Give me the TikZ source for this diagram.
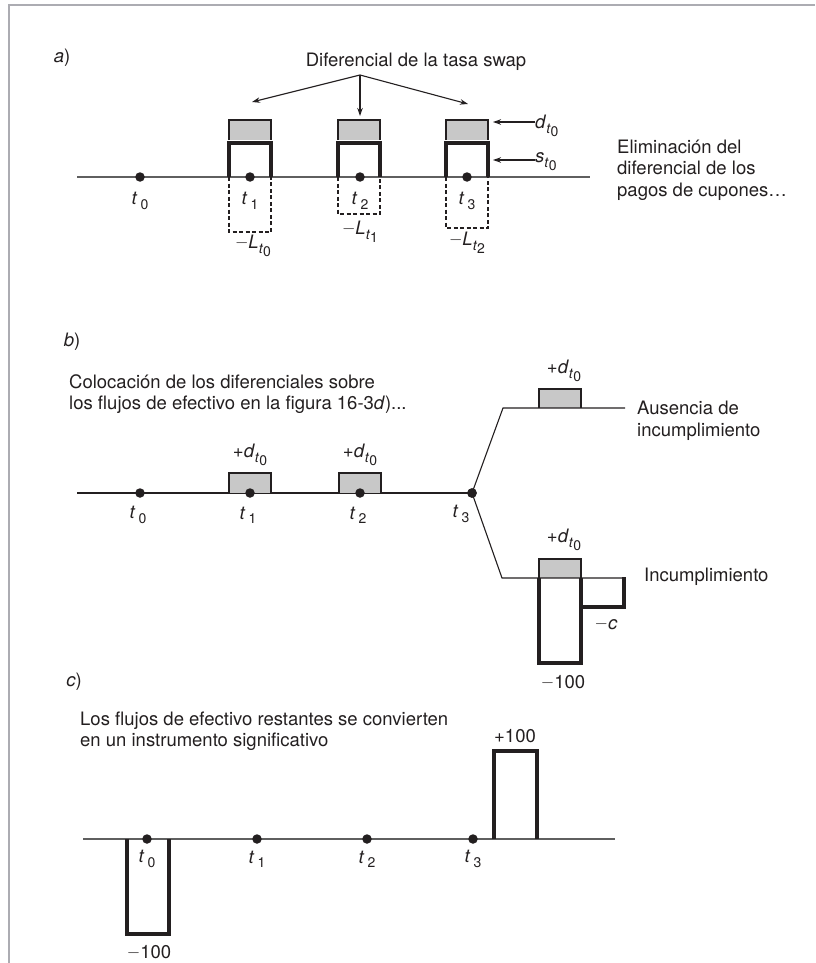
\documentclass[tikz,border=0pt]{standalone}
\usepackage{fontspec}
\setmainfont{TeX Gyre Heros}
\usetikzlibrary{arrows.meta, positioning, calc}
\definecolor{cInk}{RGB}{35,31,32}
\definecolor{cAxis}{RGB}{95,95,95}
\definecolor{cSpread}{RGB}{200,200,200}
\definecolor{cFrame}{RGB}{172,172,178}
\newcommand{\txtsz}{\fontsize{18.5}{21.5}\selectfont}
\newcommand{\subsz}{\fontsize{14}{14}\selectfont}
\newcommand{\mns}{\raisebox{0.1ex}{$-$}}
\newcommand{\tlab}[1]{\textit{t}\,\raisebox{-0.45ex}{\subsz #1}}
\newcommand{\sublab}[2]{\textit{#1}\raisebox{-0.5ex}{\subsz\textit{t}\raisebox{-0.45ex}{\subsz #2}}}
\tikzset{
	frame/.style={draw=cFrame, line width=2pt},
	axis/.style={draw=cAxis, line width=1.4pt},
	branch/.style={draw=cInk, line width=1.1pt},
	dot/.style={circle, fill=cInk, inner sep=0pt, minimum size=9.5pt},
	lbl/.style={inner sep=0pt, text=cInk},
	flowbox/.style={draw=cInk, line width=3.2pt},
	spreadfill/.style={fill=cSpread},
	spreadedge/.style={draw=cInk, line width=2.6pt},
	dashbox/.style={draw=cInk, line width=2.4pt, dash pattern=on 4pt off 2.5pt},
	ptr/.style={-{Stealth[length=8pt, width=5.5pt]}, draw=cInk, line width=1.1pt},
}
\begin{document}
\begin{tikzpicture}[x=1pt, y=-1pt, font=\txtsz]
	\useasboundingbox (0,0) rectangle (815,963);
	\draw[frame] (815,5) -- (9,5) -- (9,963);
	% a) swap spread
	\node[lbl] (pa) at (62,58) {\textit{a})};
	\node[lbl] (spreadtxt) at (416,62) {Diferencial de la tasa swap};
	\coordinate (hub) at (360,75);
	\coordinate (tipL) at (252,102);
	\coordinate (tipM) at (360,116);
	\coordinate (tipR) at (468,104);
	\draw[ptr] (hub) -- (tipL);
	\draw[ptr] (hub) -- (tipM);
	\draw[ptr] (hub) -- (tipR);
	\draw[axis] (77,177) -- (590,177);
	\foreach \x/\lo in {250/232, 359/214, 467/228} {
		\fill[spreadfill] ({\x-21},120) rectangle ({\x+21},140);
		\draw[spreadedge] ({\x-21},140) -- ({\x-21},120) -- ({\x+21},120) -- ({\x+21},140);
		\draw[flowbox] ({\x-21},177) -- ({\x-21},143) -- ({\x+21},143) -- ({\x+21},177);
		\draw[dashbox] ({\x-21},177) -- ({\x-21},\lo) -- ({\x+21},\lo) -- ({\x+21},177);
	}
	\foreach \n/\x in {0/140, 1/250, 2/360, 3/467} {
		\node[dot] (a\n) at (\x,177) {};
		\node[lbl] (ta\n) at (\x,201) {\tlab{\n}};
	}
	\node[lbl] (La0) at (253,246) {\mns\sublab{L}{0}};
	\node[lbl] (La1) at (360,232) {\mns\sublab{L}{1}};
	\node[lbl] (La2) at (467,243) {\mns\sublab{L}{2}};
	\node[lbl, anchor=west] (dlbl) at (535,126) {\sublab{d}{0}};
	\node[lbl, anchor=west] (slbl) at (535,162) {\sublab{s}{0}};
	\coordinate (dtip) at (493,122);
	\coordinate (stip) at (493,160);
	\draw[ptr] (dlbl.west |- dtip) -- (dtip);
	\draw[ptr] (slbl.west |- stip) -- (stip);
	\node[lbl, anchor=west, align=left] (elim) at (617,170) {Eliminación del\\diferencial de los\\pagos de cupones…};
	% b) spreads on the cash flows
	\node[lbl] (pb) at (72,342) {\textit{b})};
	\node[lbl, anchor=west, align=left] (placetxt) at (69,394) {Colocación de los diferenciales sobre\\los flujos de efectivo en la figura 16-3\textit{d})...};
	\foreach \n/\x in {0/140, 1/250, 2/360, 3/472}
		\coordinate (b\n) at (\x,493);
	\draw[branch] (77,493) -- (b3);
	\foreach \n in {1,2} {
		\fill[spreadfill] ($(b\n)+(-21,-20)$) rectangle ($(b\n)+(21,0)$);
		\draw[spreadedge] ($(b\n)+(-21,0)$) -- ++(0,-20) -- ++(42,0) -- ++(0,20);
		\node[lbl] (db\n) at ($(b\n)+(0,-38)$) {+\sublab{d}{0}};
	}
	\foreach \n in {0,1,2,3}
		\node[dot] (bd\n) at (b\n) {};
	\foreach \n in {0,1,2}
		\node[lbl] (tb\n) at ($(b\n)+(-2,22)$) {\tlab{\n}};
	\node[lbl] (tb3) at (461,514) {\tlab{3}};
	\coordinate (up1) at (503,408);
	\coordinate (up2) at (625,408);
	\coordinate (dn1) at (502,578);
	\coordinate (dn2) at (624,578);
	\fill[spreadfill] (539,389) rectangle (581,408);
	\fill[spreadfill] (539,559) rectangle (581,578);
	\draw[branch] (bd3.center) -- (up1) -- (up2);
	\draw[branch] (bd3.center) -- (dn1) -- (dn2);
	\node[dot] at (bd3) {};
	\draw[spreadedge] (539,408) -- (539,389) -- (581,389) -- (581,408);
	\node[lbl] (dup) at (564,371) {+\sublab{d}{0}};
	\node[lbl, anchor=west, align=left] (nodef) at (637,421) {Ausencia de\\incumplimiento};
	\draw[flowbox] (539,578) -- (539,663) -- (581,663) -- (581,578);
	\draw[flowbox] (581,607) -- (624,607) -- (624,577);
	\draw[spreadedge] (539,578) -- (539,559) -- (581,559) -- (581,578);
	\node[lbl] (ddn) at (564,540) {+\sublab{d}{0}};
	\node[lbl, anchor=west] (deflt) at (644,577) {Incumplimiento};
	\node[lbl] (mc) at (606,624) {\mns\textit{c}};
	\node[lbl] (m100b) at (563,682) {\mns100};
	% c) remaining cash flows
	\node[lbl] (pc) at (74,682) {\textit{c})};
	\node[lbl, anchor=west, align=left] (resttxt) at (80,731) {Los flujos de efectivo restantes se convierten\\en un instrumento significativo};
	\draw[axis] (83,839) -- (615,839);
	\draw[flowbox] (127,839) -- (127,934) -- (169,934) -- (169,839);
	\draw[flowbox] (494,839) -- (494,751) -- (537,751) -- (537,839);
	\foreach \n/\x in {0/147, 1/257, 2/367, 3/473} {
		\node[dot] (c\n) at (\x,839) {};
		\node[lbl] (tc\n) at ($(c\n)+(0,20)$) {\tlab{\n}};
	}
	\node[lbl] (m100c) at (149,952) {\mns100};
	\node[lbl] (p100c) at (515,736) {+100};
\end{tikzpicture}
\end{document}
